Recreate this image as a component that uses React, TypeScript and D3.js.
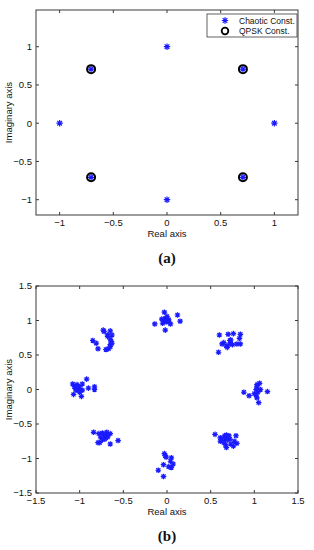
import React from 'react';
import * as d3 from 'd3';

// (a) ideal constellations
const chaoticA: [number, number][] = [
  [1, 0], [0, 1], [-1, 0], [0, -1],
  [0.707, 0.707], [-0.707, 0.707], [-0.707, -0.707], [0.707, -0.707],
];
const qpskA: [number, number][] = [
  [0.707, 0.707], [-0.707, 0.707], [-0.707, -0.707], [0.707, -0.707],
];

// (b) received chaotic constellation
const chaoticB: [number, number][] = [
  // around (0, 1)
  [-0.03, 1.12], [-0.14, 0.95], [-0.06, 1.02], [-0.02, 1.03], [0, 1.02], [0.02, 1.01],
  [-0.03, 0.99], [-0.01, 0.98], [0.02, 0.98], [0.04, 0.95], [-0.02, 0.86], [0.12, 1.08],
  [0.15, 0.99], [-0.05, 0.96], [0, 1.06],
  // around (-0.7, 0.7)
  [-0.85, 0.71], [-0.81, 0.67], [-0.79, 0.59], [-0.73, 0.86], [-0.72, 0.84], [-0.65, 0.85],
  [-0.68, 0.79], [-0.63, 0.79], [-0.65, 0.73], [-0.64, 0.70], [-0.65, 0.65], [-0.65, 0.62],
  [-0.70, 0.58], [-0.67, 0.59], [-0.68, 0.77], [-0.63, 0.67],
  // around (0.7, 0.7)
  [0.60, 0.79], [0.59, 0.54], [0.70, 0.80], [0.76, 0.81], [0.84, 0.80], [0.83, 0.74],
  [0.63, 0.66], [0.68, 0.63], [0.69, 0.61], [0.72, 0.66], [0.73, 0.72], [0.80, 0.66],
  [0.84, 0.66], [0.75, 0.65], [0.65, 0.68], [0.72, 0.71],
  // around (-1, 0)
  [-1.08, 0.08], [-1.06, 0.04], [-1.05, 0.02], [-1.03, 0.07], [-1.0, 0.04], [-0.97, 0.08],
  [-1.02, 0.0], [-0.99, -0.01], [-0.97, -0.01], [-1.0, -0.04], [-1.07, -0.07], [-0.98, -0.1],
  [-0.92, 0.15], [-0.90, 0.02], [-0.83, 0.04], [-0.83, 0.0], [-1.04, -0.01],
  // around (1, 0)
  [0.88, -0.04], [0.94, -0.09], [1.0, -0.06], [1.02, 0.0], [1.03, 0.04], [1.06, 0.09],
  [1.07, 0.0], [1.02, -0.08], [1.03, -0.12], [1.04, -0.04], [1.05, -0.19], [1.15, -0.03],
  [1.03, 0.07],
  // around (-0.7, -0.7)
  [-0.84, -0.62], [-0.78, -0.64], [-0.74, -0.63], [-0.69, -0.62], [-0.68, -0.66], [-0.65, -0.64],
  [-0.72, -0.67], [-0.70, -0.68], [-0.76, -0.69], [-0.74, -0.73], [-0.71, -0.72], [-0.79, -0.77],
  [-0.77, -0.77], [-0.65, -0.79], [-0.56, -0.74], [-0.68, -0.69],
  // around (0, -1)
  [-0.03, -0.93], [-0.02, -0.96], [-0.01, -0.98], [0.05, -0.99], [0.04, -1.04], [0.07, -1.08],
  [-0.04, -1.09], [0.02, -1.12], [0.05, -1.13], [-0.10, -1.17], [-0.04, -1.26],
  // around (0.7, -0.7)
  [0.55, -0.65], [0.61, -0.70], [0.61, -0.75], [0.66, -0.67], [0.68, -0.66], [0.71, -0.67],
  [0.67, -0.71], [0.69, -0.73], [0.72, -0.72], [0.65, -0.77], [0.67, -0.80], [0.68, -0.84],
  [0.77, -0.75], [0.79, -0.67], [0.80, -0.78], [0.76, -0.82], [0.73, -0.79], [0.63, -0.71],
];

const ticksA_x = [-1, -0.5, 0, 0.5, 1];
const ticksA_y = [-1, -0.5, 0, 0.5, 1];
const ticksB = [-1.5, -1, -0.5, 0, 0.5, 1, 1.5];

const legendItems = ['Chaotic Const.', 'QPSK Const.'];

const BLUE = '#1a1aff';
const FRAME = '#3a3a3a';
const FONT = '"Liberation Sans", Arial, sans-serif';

const fmt = (v: number) => (v < 0 ? '\u2212' + String(Math.abs(v)) : String(v));

// MATLAB-like '*' marker: plus + cross
const star = (x: number, y: number, r = 3.2) => {
  const d = r * 0.72;
  return `M${x - r},${y}H${x + r}M${x},${y - r}V${y + r}` +
    `M${x - d},${y - d}L${x + d},${y + d}M${x - d},${y + d}L${x + d},${y - d}`;
};

interface PanelProps {
  x: d3.ScaleLinear<number, number>;
  y: d3.ScaleLinear<number, number>;
  xt: number[];
  yt: number[];
  label: string;
  children?: React.ReactNode;
}

const Panel: React.FC<PanelProps> = ({ x, y, xt, yt, label, children }) => {
  const [x0, x1] = x.range();
  const [y0, y1] = y.range(); // y0 bottom, y1 top
  const tl = 3;
  return (
    <g>
      {children}
      <rect x={x0} y={y1} width={x1 - x0} height={y0 - y1} fill="none" stroke={FRAME} strokeWidth={1} />
      {xt.map((t) => (
        <g key={'x' + t}>
          <line x1={x(t)} x2={x(t)} y1={y0} y2={y0 - tl} stroke={FRAME} />
          <line x1={x(t)} x2={x(t)} y1={y1} y2={y1 + tl} stroke={FRAME} />
          <text x={x(t)} y={y0 + 11} fontSize={9.5} textAnchor="middle" fontFamily={FONT} fill="#111">{fmt(t)}</text>
        </g>
      ))}
      {yt.map((t) => (
        <g key={'y' + t}>
          <line x1={x0} x2={x0 + tl} y1={y(t)} y2={y(t)} stroke={FRAME} />
          <line x1={x1} x2={x1 - tl} y1={y(t)} y2={y(t)} stroke={FRAME} />
          <text x={x0 - 4} y={y(t) + 3.3} fontSize={9.5} textAnchor="end" fontFamily={FONT} fill="#111">{fmt(t)}</text>
        </g>
      ))}
      <text x={(x0 + x1) / 2} y={y0 + 22} fontSize={9.5} textAnchor="middle" fontFamily={FONT} fill="#111">Real axis</text>
      <text transform={`translate(12,${(y0 + y1) / 2}) rotate(-90)`} fontSize={9.5} textAnchor="middle" fontFamily={FONT} fill="#111">Imaginary axis</text>
      <text x={(x0 + x1) / 2} y={y0 + 48} fontSize={15} textAnchor="middle" fontFamily='"Liberation Serif", "DejaVu Serif", serif' fontWeight="bold" fill="#111">{label}</text>
    </g>
  );
};

const App: React.FC = () => {
  const xA = d3.scaleLinear().domain([-1.22, 1.22]).range([36, 298]);
  const yA = d3.scaleLinear().domain([-1.2, 1.48]).range([215, 10]);
  const xB = d3.scaleLinear().domain([-1.5, 1.5]).range([36, 298]);
  const yB = d3.scaleLinear().domain([-1.5, 1.5]).range([493, 286]);

  return (
    <svg width={314} height={550} style={{ position: 'absolute', left: 0, top: 0, background: '#fff' }}>
      <Panel x={xA} y={yA} xt={ticksA_x} yt={ticksA_y} label="(a)">
        {chaoticA.map(([re, im], i) => (
          <path key={'ca' + i} d={star(xA(re), yA(im))} stroke={BLUE} strokeWidth={1.2} fill="none" />
        ))}
        {qpskA.map(([re, im], i) => (
          <circle key={'q' + i} cx={xA(re)} cy={yA(im)} r={4} fill="none" stroke="#000" strokeWidth={2} />
        ))}
        {/* legend */}
        <rect x={207} y={14} width={90} height={23} fill="#fff" stroke={FRAME} strokeWidth={0.8} />
        {legendItems.map((t, i) => (
          <g key={t}>
            {i === 0
              ? <path d={star(225, 20.5)} stroke={BLUE} strokeWidth={1.2} fill="none" />
              : <circle cx={225} cy={31} r={3.3} fill="none" stroke="#000" strokeWidth={1.8} />}
            <text x={239} y={i === 0 ? 23.5 : 34} fontSize={8.5} fontFamily={FONT} fill="#111">{t}</text>
          </g>
        ))}
      </Panel>
      <Panel x={xB} y={yB} xt={ticksB} yt={ticksB} label="(b)">
        {chaoticB.map(([re, im], i) => (
          <path key={'cb' + i} d={star(xB(re), yB(im), 2.8)} stroke={BLUE} strokeWidth={1.2} fill="none" />
        ))}
      </Panel>
    </svg>
  );
};

export default App;
